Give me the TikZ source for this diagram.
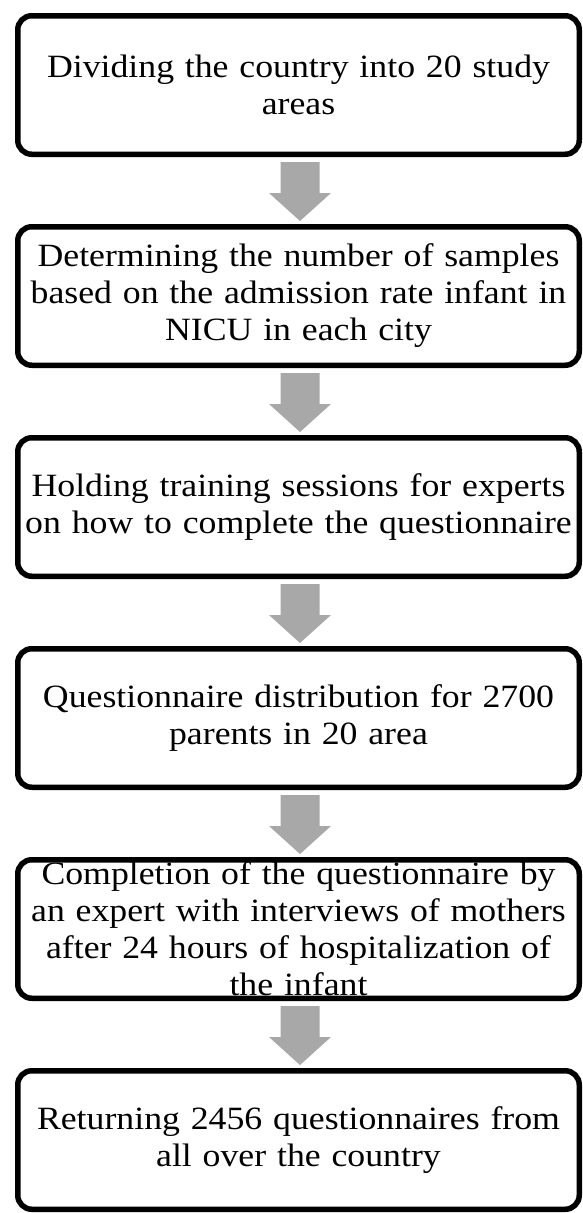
\documentclass[tikz,border=0pt]{standalone}
\usepackage{fontspec}
\setmainfont{Liberation Serif}[FakeStretch=1.1]
\usetikzlibrary{calc}
\definecolor{arrowgray}{HTML}{A8A8A8}
\tikzset{
  stepbox/.style={draw=black, line width=5.5pt, rounded corners=14pt, fill=white,
    minimum width=561.5pt, minimum height=138.5pt, inner sep=0pt,
    text width=556pt, align=center,
    font=\fontsize{32.5pt}{37pt}\selectfont},
  blockarrow/.style={fill=arrowgray, draw=none}
}
\begin{document}
\begin{tikzpicture}[x=1pt,y=1pt]
\useasboundingbox (0,0) rectangle (583,-1213);
\node[stepbox] (b1) at (298.5,-85) {Dividing the country into 20 study\\areas};
\node[stepbox] (b2) at (298.5,-296) {Determining the number of samples\\based on the admission rate infant in\\NICU in each city};
\node[stepbox] (b3) at (298.5,-507) {Holding training sessions for experts\\on how to complete the questionnaire};
\node[stepbox] (b4) at (298.5,-718) {Questionnaire distribution for 2700\\parents in 20 area};
\node[stepbox] (b5) at (298.5,-929) {Completion of the questionnaire by\\an expert with interviews of mothers\\after 24 hours of hospitalization of\\the infant};
\node[stepbox] (b6) at (298.5,-1140) {Returning 2456 questionnaires from\\all over the country};
\foreach \a/\b in {b1/b2,b2/b3,b3/b4,b4/b5,b5/b6}{
  \fill[blockarrow]
    ($(\a.south)+(-18,-5)$) -- ($(\a.south)+(21,-5)$) --
    ($(\b.north)+(21,31)$) -- ($(\b.north)+(32.5,31)$) --
    ($(\b.north)+(1.5,3)$) --
    ($(\b.north)+(-29.5,31)$) -- ($(\b.north)+(-18,31)$) -- cycle;
}
\end{tikzpicture}
\end{document}
